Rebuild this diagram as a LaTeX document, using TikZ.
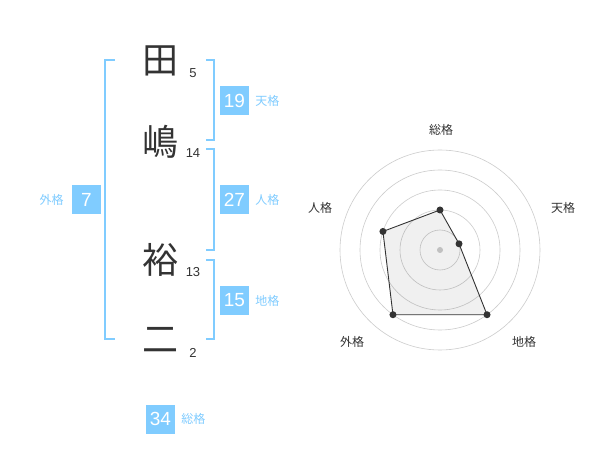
\documentclass[tikz,border=0pt]{standalone}
\usepackage{fontspec}
\usetikzlibrary{calc,positioning}
\setmainfont{Liberation Sans}
\newfontfamily\jp{Noto Sans CJK JP}
\definecolor{kakublue}{HTML}{80CCFF}
\definecolor{inkgray}{HTML}{333333}
\definecolor{ringgray}{HTML}{CCCCCC}
\tikzset{
  kanji/.style={font=\jp\fontsize{36}{36}\selectfont, text=inkgray, inner sep=0pt},
  strokes/.style={font=\fontsize{13}{13}\selectfont, text=inkgray, inner sep=0pt},
  kakubox/.style={fill=kakublue, text=white, minimum size=29pt, inner sep=0pt, font=\fontsize{19}{19}\selectfont},
  kakuname/.style={font=\jp\fontsize{12}{12}\selectfont, text=kakublue, inner sep=0pt},
  bracket/.style={draw=kakublue, line width=1.5pt},
  axisname/.style={font=\jp\fontsize{12}{12}\selectfont, text=inkgray, inner sep=0pt},
  ring/.style={draw=ringgray, line width=0.6pt},
  dot/.style={fill=inkgray}
}
\begin{document}
\begin{tikzpicture}[x=1pt, y=-1pt]
            \useasboundingbox (0,0) rectangle (600,470);
            \fill[white] (0,0) rectangle (600,470);

            % name characters and stroke counts
            \def\xk{160}
            \def\xs{193}
            \node[kanji](ta) at (\xk, 61) {田};
            \node[kanji](shima) at (\xk, 142) {嶋};
            \node[kanji](hiro) at (\xk, 260) {裕};
            \node[kanji](ji) at (\xk, 340) {二};
            \node[strokes](sa) at (\xs, 73) {5};
            \node[strokes](sb) at (\xs, 153) {14};
            \node[strokes](sc) at (\xs, 272) {13};
            \node[strokes](sd) at (\xs, 353) {2};

            % brackets
            \def\xl{105}
            \def\xr{214}
            \coordinate(lt) at (\xl, 60);
            \coordinate(lb) at (\xl, 339);
            \draw[bracket] ($(lt)+(10,0)$) -- (lt) -- (lb) -- ($(lb)+(10,0)$);
            \coordinate(at) at (\xr, 60);
            \coordinate(ab) at (\xr, 140);
            \draw[bracket] ($(at)+(-8,0)$) -- (at) -- (ab) -- ($(ab)+(-8,0)$);
            \coordinate(bt) at (\xr, 149);
            \coordinate(bb) at (\xr, 250);
            \draw[bracket] ($(bt)+(-8,0)$) -- (bt) -- (bb) -- ($(bb)+(-8,0)$);
            \coordinate(ct) at (\xr, 260);
            \coordinate(cb) at (\xr, 339);
            \draw[bracket] ($(ct)+(-8,0)$) -- (ct) -- (cb) -- ($(cb)+(-8,0)$);

            % scores
            \node[kakubox](ten) at (234.5, 100.5) {19};
            \node[kakuname, right=6pt of ten](tenl) {天格};
            \node[kakubox](jin) at (234.5, 200) {27};
            \node[kakuname, right=6pt of jin](jinl) {人格};
            \node[kakubox](chi) at (234.5, 300.5) {15};
            \node[kakuname, right=6pt of chi](chil) {地格};
            \node[kakubox](gai) at (86.5, 200) {7};
            \node[kakuname, left=8pt of gai](gail) {外格};
            \node[kakubox](sou) at (160.5, 419) {34};
            \node[kakuname, right=6pt of sou](soul) {総格};

            % radar chart
            \coordinate(c) at (440, 250);
            \foreach \r in {20,40,60,80,100}
                \draw[ring] (c) circle (\r);
            \fill[ringgray] (c) circle (3);
            \coordinate(psou) at ($(c)+(-90:40)$);
            \coordinate(pten) at ($(c)+(-18:20)$);
            \coordinate(pchi) at ($(c)+(54:80)$);
            \coordinate(pgai) at ($(c)+(126:80)$);
            \coordinate(pjin) at ($(c)+(198:60)$);
            \filldraw[fill=black, fill opacity=0.06, draw=inkgray, line width=0.9pt]
                (psou) -- (pten) -- (pchi) -- (pgai) -- (pjin) -- cycle;
            \foreach \p in {psou,pten,pchi,pgai,pjin}
                \fill[dot] (\p) circle (3.5);
            \node[axisname](asou) at (441, 130) {総格};
            \node[axisname](aten) at (563, 208) {天格};
            \node[axisname](ajin) at (320, 208) {人格};
            \node[axisname](agai) at (352, 342) {外格};
            \node[axisname](achi) at (524, 342) {地格};
        \end{tikzpicture}
\end{document}
